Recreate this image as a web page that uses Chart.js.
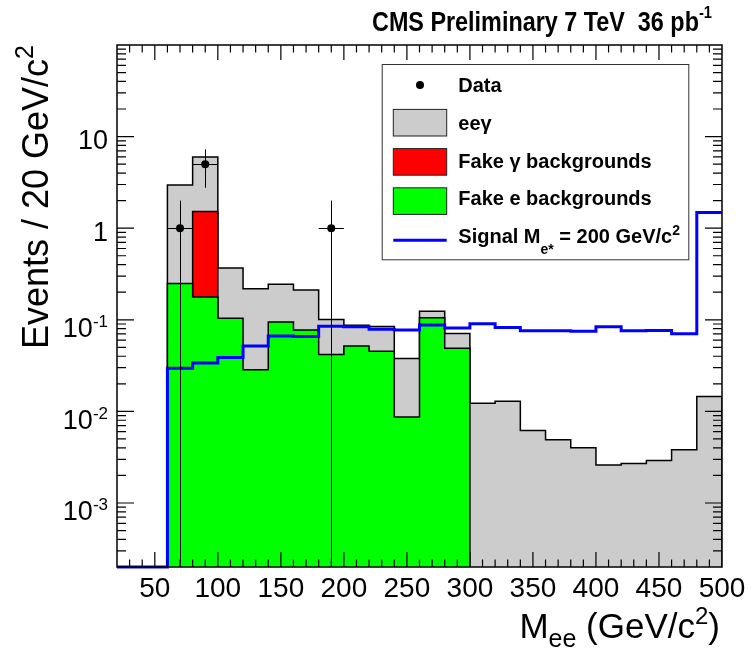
<!DOCTYPE html>
<html>
<head>
<meta charset="utf-8">
<title>CMS Preliminary - Mee</title>
<script src="https://cdn.jsdelivr.net/npm/chart.js@4.4.1/dist/chart.umd.min.js"></script>
<style>
    html, body { margin: 0; padding: 0; background: #fff; }
    canvas { display: block; }
</style>
</head>
<body>
<canvas id="meeChart" width="751" height="654"></canvas>
<script>
// ===== M_ee spectrum, log scale, ROOT look =====

// --- Axis ranges ---
const xRange = [20, 500];
const yRange = [2e-4, 100];

// --- Background binning (20 GeV/c^2) ---
const binEdges = [60, 80, 100, 120, 140, 160, 180, 200, 220, 240, 260, 280, 300,
    320, 340, 360, 380, 400, 420, 440, 460, 480, 500];

// per bin contributions (not cumulative)
const fakeEValues = [0.249, 0.177, 0.104, 0.0284, 0.0946, 0.0774, 0.0417, 0.0519, 0.0453, 0.0087, 0.105, 0.0488,
    0, 0, 0, 0, 0, 0, 0, 0, 0, 0];
const fakeGammaValues = [0, 1.343, 0, 0, 0, 0, 0, 0, 0, 0, 0, 0,
    0, 0, 0, 0, 0, 0, 0, 0, 0, 0];
const eegValues = [2.71, 4.46, 0.263, 0.190, 0.150, 0.134, 0.059, 0.035, 0.039, 0.029, 0.019, 0.022,
    0.0123, 0.0129, 0.0062, 0.0049, 0.0040, 0.0026, 0.0027, 0.0029, 0.0038, 0.0145];

// --- Signal M_e* = 200 ---
const signalEdges = [20, 40, 60, 80, 100, 120, 140, 160, 180, 200, 220, 240, 260, 280, 300,
    320, 340, 360, 380, 400, 420, 440, 460, 480, 500];
const signalValues = [0, 0, 0.0296, 0.0338, 0.0387, 0.0519, 0.0667, 0.0655, 0.0848, 0.084, 0.0787, 0.0774,
    0.0878, 0.0814, 0.0907, 0.0826, 0.076, 0.076, 0.0749, 0.084, 0.076, 0.0765, 0.0706, 1.48];

// --- Data ---
const dataX = [70, 90, 190];
const dataY = [1, 5, 1];
const dataErrY = [1, 2.24, 1];
const dataErrX = [10, 10, 10];

// --- Ticks ---
const xTickValues = [50, 100, 150, 200, 250, 300, 350, 400, 450, 500];
const xTickLabels = ['50', '100', '150', '200', '250', '300', '350', '400', '450', '500'];
const yTickValues = [0.001, 0.01, 0.1, 1, 10];
const yTickLabels = ['10^{-3}', '10^{-2}', '10^{-1}', '1', '10'];

// --- Texts ---
const titleText = 'CMS Preliminary 7 TeV  36 pb^{-1}';
const xTitle = 'M_{ee} (GeV/c^{2})';
const yTitle = 'Events / 20 GeV/c^{2}';
const legendLabels = ['Data', 'ee\u03b3', 'Fake \u03b3 backgrounds', 'Fake e backgrounds', 'Signal M_{e*} = 200 GeV/c^{2}'];

const FONT = '"Liberation Sans", Arial, Helvetica, sans-serif';
const GRAY = '#cccccc', RED = '#ff0000', GREEN = '#00ff00', BLUE = '#0000ff';

// --- Stack (cumulative tops) ---
var stackGreen = fakeEValues.slice();
var stackRed = fakeGammaValues.map(function (v, i) { return v > 0 ? v + fakeEValues[i] : 0; });
var stackTotal = eegValues.map(function (v, i) { return v + fakeEValues[i] + fakeGammaValues[i]; });

// step outline with drops to the floor at both ends of the filled run
function histPoints(edges, values) {
    var pts = [];
    var inRun = false;
    for (var i = 0; i < values.length; i++) {
        if (values[i] > 0) {
            if (!inRun) { pts.push({ x: edges[i], y: yRange[0] }); inRun = true; }
            pts.push({ x: edges[i], y: values[i] });
        } else if (inRun) {
            pts.push({ x: edges[i], y: yRange[0] });
            inRun = false;
        }
    }
    if (inRun) pts.push({ x: edges[values.length], y: yRange[0] });
    return pts;
}

// plain line histogram, empty bins sit on the frame bottom
function histLine(edges, values) {
    var pts = values.map(function (v, i) { return { x: edges[i], y: v > 0 ? v : yRange[0] }; });
    pts.push({ x: edges[values.length], y: values[values.length - 1] });
    return pts;
}

var dataPoints = dataX.map(function (x, i) { return { x: x, y: dataY[i] }; });

// --- Rich text: ^{..} superscript, _{..} subscript ---
function parseRich(str) {
    var segs = [], cur = '', i = 0;
    while (i < str.length) {
        var c = str[i];
        if ((c === '^' || c === '_') && i + 1 < str.length) {
            if (cur) { segs.push({ t: cur, m: 'n' }); cur = ''; }
            var txt;
            if (str[i + 1] === '{') {
                var j = str.indexOf('}', i + 2);
                txt = str.slice(i + 2, j);
                i = j + 1;
            } else {
                txt = str[i + 1];
                i += 2;
            }
            segs.push({ t: txt, m: c === '^' ? 'sup' : 'sub' });
        } else {
            cur += c;
            i++;
        }
    }
    if (cur) segs.push({ t: cur, m: 'n' });
    return segs;
}

function drawRich(ctx, str, x, y, o) {
    var segs = parseRich(str);
    function font(m) {
        var s = m === 'sup' ? o.supSize : m === 'sub' ? o.subSize : o.size;
        return (o.bold ? 'bold ' : '') + s + 'px ' + FONT;
    }
    var total = 0;
    segs.forEach(function (s) {
        ctx.font = font(s.m);
        s.w = ctx.measureText(s.t).width;
        total += s.w;
    });
    var sc = o.fitWidth ? o.fitWidth / total : 1;
    var w = total * sc;
    var sx = o.align === 'right' ? x - w : o.align === 'center' ? x - w / 2 : x;
    ctx.save();
    ctx.translate(sx, y);
    ctx.scale(sc, 1);
    ctx.textAlign = 'left';
    ctx.textBaseline = 'alphabetic';
    ctx.fillStyle = o.color || '#000';
    var px = 0;
    segs.forEach(function (s) {
        ctx.font = font(s.m);
        var dy = s.m === 'sup' ? o.supDy : s.m === 'sub' ? o.subDy : 0;
        ctx.fillText(s.t, px, dy);
        px += s.w;
    });
    ctx.restore();
    return w;
}

// --- Error bars under the data markers ---
var errorBarPlugin = {
    id: 'errorBars',
    beforeDatasetDraw: function (chart, args) {
        if (args.index !== 0) return;
        var ctx = chart.ctx, xs = chart.scales.x, ys = chart.scales.y, ca = chart.chartArea;
        ctx.save();
        ctx.beginPath();
        ctx.rect(ca.left, ca.top, ca.width, ca.height);
        ctx.clip();
        ctx.strokeStyle = '#000';
        ctx.lineWidth = 1;
        dataX.forEach(function (x, i) {
            var px = xs.getPixelForValue(x), py = ys.getPixelForValue(dataY[i]);
            var lo = dataY[i] - dataErrY[i];
            var pyLo = lo > yRange[0] ? ys.getPixelForValue(lo) : ca.bottom;
            var pyHi = ys.getPixelForValue(dataY[i] + dataErrY[i]);
            ctx.beginPath();
            ctx.moveTo(Math.round(px) + 0.5, pyHi);
            ctx.lineTo(Math.round(px) + 0.5, pyLo);
            ctx.moveTo(xs.getPixelForValue(x - dataErrX[i]), Math.round(py) + 0.5);
            ctx.lineTo(xs.getPixelForValue(x + dataErrX[i]), Math.round(py) + 0.5);
            ctx.stroke();
        });
        ctx.restore();
    }
};

// --- Frame, ticks, labels, titles, legend ---
var rootStylePlugin = {
    id: 'rootStyle',
    afterDraw: function (chart) {
        var ctx = chart.ctx, xs = chart.scales.x, ys = chart.scales.y, ca = chart.chartArea;
        ctx.save();
        ctx.strokeStyle = '#000';
        ctx.lineWidth = 1.5;
        ctx.strokeRect(ca.left, ca.top, ca.width, ca.height);

        // x ticks, bottom and top
        ctx.lineWidth = 1.2;
        ctx.beginPath();
        for (var v = xRange[0] + 10; v < xRange[1]; v += 10) {
            var px = xs.getPixelForValue(v);
            var len = v % 50 === 0 ? 15 : 7.5;
            ctx.moveTo(px, ca.bottom); ctx.lineTo(px, ca.bottom - len);
            ctx.moveTo(px, ca.top); ctx.lineTo(px, ca.top + len);
        }
        // y ticks, left and right
        for (var d = -4; d <= 2; d++) {
            for (var k = 1; k <= 9; k++) {
                var val = k * Math.pow(10, d);
                if (val <= yRange[0] || val >= yRange[1]) continue;
                var py = ys.getPixelForValue(val);
                var ylen = k === 1 ? 17 : 9;
                ctx.moveTo(ca.left, py); ctx.lineTo(ca.left + ylen, py);
                ctx.moveTo(ca.right, py); ctx.lineTo(ca.right - ylen, py);
            }
        }
        ctx.stroke();

        // tick labels
        xTickValues.forEach(function (v, i) {
            drawRich(ctx, xTickLabels[i], xs.getPixelForValue(v), ca.bottom + 30,
                { size: 28, align: 'center' });
        });
        yTickValues.forEach(function (v, i) {
            var py = ys.getPixelForValue(v);
            var lab = yTickLabels[i];
            var hasExp = lab.indexOf('^') >= 0;
            drawRich(ctx, lab, ca.left - 9, py + (hasExp ? 17.5 : 12.5),
                { size: 27, supSize: 17, supDy: -10, align: 'right' });
        });

        // axis titles
        drawRich(ctx, xTitle, ca.right - 2, ca.bottom + 71,
            { size: 35, subSize: 25, subDy: 9, supSize: 24, supDy: -14, align: 'right' });
        ctx.save();
        ctx.translate(48, ca.top);
        ctx.rotate(-Math.PI / 2);
        drawRich(ctx, yTitle, 0, 0, { size: 36, supSize: 25, supDy: -15, align: 'right' });
        ctx.restore();

        // header
        drawRich(ctx, titleText, 712, 31,
            { size: 27, bold: true, supSize: 17, supDy: -13, align: 'right', fitWidth: 340 });

        // legend box
        var lx = 381.7, ly = 64, lw = 306.6, lh = 195.3;
        ctx.fillStyle = '#fff';
        ctx.fillRect(lx, ly, lw, lh);
        ctx.strokeStyle = '#333';
        ctx.lineWidth = 1;
        ctx.strokeRect(lx + 0.5, ly + 0.5, lw, lh);
        var swFill = [null, GRAY, RED, GREEN, null];
        legendLabels.forEach(function (lab, i) {
            var cy = 83.5 + i * 39.2;
            if (i === 0) {
                ctx.fillStyle = '#000';
                ctx.beginPath();
                ctx.arc(420, cy + 1.5, 4, 0, Math.PI * 2);
                ctx.fill();
            } else if (i === 4) {
                ctx.strokeStyle = BLUE;
                ctx.lineWidth = 3;
                ctx.beginPath();
                ctx.moveTo(393.3, cy); ctx.lineTo(446.7, cy);
                ctx.stroke();
            } else {
                ctx.fillStyle = swFill[i];
                ctx.fillRect(393.3, cy - 13.3, 53.4, 26.6);
                ctx.strokeStyle = '#222';
                ctx.lineWidth = 1;
                ctx.strokeRect(393.3, cy - 13.3, 53.4, 26.6);
            }
            drawRich(ctx, lab, 458.3, 92 + i * 37.8,
                { size: 20, bold: true, subSize: 14, subDy: 11, supSize: 14, supDy: -8 });
        });
        ctx.restore();
    }
};

// --- Chart ---
new Chart(document.getElementById('meeChart'), {
    type: 'line',
    data: {
        datasets: [
            {
                label: 'Data',
                data: dataPoints,
                showLine: false,
                pointRadius: 4,
                pointBackgroundColor: '#000',
                pointBorderColor: '#000',
                pointBorderWidth: 0
            },
            {
                label: 'Signal',
                data: histLine(signalEdges, signalValues),
                borderColor: BLUE,
                borderWidth: 3,
                stepped: 'before',
                fill: false,
                pointRadius: 0,
                clip: 4
            },
            {
                label: 'Fake e backgrounds',
                data: histPoints(binEdges, stackGreen),
                borderColor: '#000',
                borderWidth: 1.5,
                backgroundColor: GREEN,
                fill: 'start',
                stepped: 'before',
                pointRadius: 0
            },
            {
                label: 'Fake gamma backgrounds',
                data: histPoints(binEdges, stackRed),
                borderColor: '#000',
                borderWidth: 1.5,
                backgroundColor: RED,
                fill: 'start',
                stepped: 'before',
                pointRadius: 0
            },
            {
                label: 'eegamma',
                data: histPoints(binEdges, stackTotal),
                borderColor: '#000',
                borderWidth: 1.5,
                backgroundColor: GRAY,
                fill: 'start',
                stepped: 'before',
                pointRadius: 0
            }
        ]
    },
    options: {
        responsive: false,
        animation: false,
        devicePixelRatio: 1,
        layout: { padding: { left: 117, top: 45, right: 29, bottom: 87 } },
        scales: {
            x: { type: 'linear', min: xRange[0], max: xRange[1], display: false },
            y: { type: 'logarithmic', min: yRange[0], max: yRange[1], display: false }
        },
        plugins: {
            legend: { display: false },
            tooltip: { enabled: false }
        },
        elements: { line: { tension: 0 } }
    },
    plugins: [errorBarPlugin, rootStylePlugin]
});
</script>
</body>
</html>
